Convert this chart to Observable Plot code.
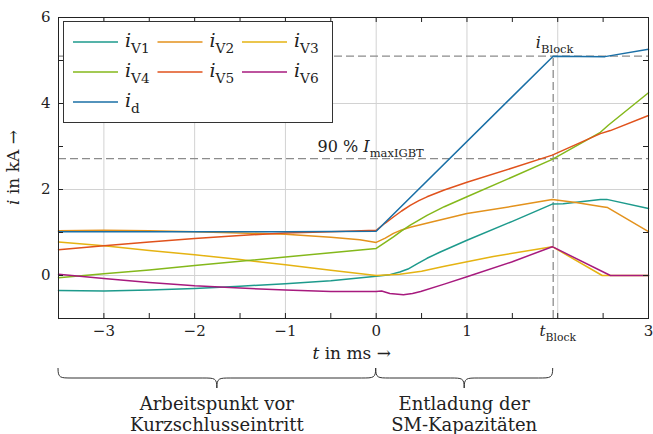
<!DOCTYPE html>
<html><head><meta charset="utf-8">
<script src="https://cdn.jsdelivr.net/npm/d3@7"></script>
<script src="https://cdn.jsdelivr.net/npm/@observablehq/plot@0.6"></script>
<style>body{margin:0;background:#fff}</style>
</head><body><div id="chart"></div>
<script>
// ---- data ----
const seriesKeys = ["V1","V2","V3","V4","V5","V6","d"];
const seriesColors = ["#1d9a8c","#e3921d","#e5b312","#84b81b","#e0521c","#a71a7e","#1a6fa6"];
const legendLabels = ["*i*_{V1}","*i*_{V2}","*i*_{V3}","*i*_{V4}","*i*_{V5}","*i*_{V6}","*i*_{d}"];

const tV1 = [-3.5,-3,-2.5,-2,-1.5,-1,-0.5,0,0.15,0.26,0.35,0.45,0.56,0.7,1.0,1.5,1.94,2.06,2.47,2.54,3.0];
const iV1 = [-0.35,-0.36,-0.34,-0.30,-0.25,-0.19,-0.12,-0.02,0.02,0.08,0.15,0.27,0.40,0.54,0.82,1.26,1.66,1.67,1.77,1.77,1.56];

const tV2 = [-3.5,-3,-2.5,-2,-1.5,-1,-0.5,-0.18,0,0.1,0.19,0.28,0.375,0.6,1.0,1.5,1.94,2.2,2.49,2.55,3.0];
const iV2 = [1.04,1.05,1.04,1.02,0.99,0.96,0.89,0.83,0.77,0.87,0.98,1.06,1.12,1.24,1.44,1.61,1.77,1.70,1.60,1.58,1.02];

const tV3 = [-3.5,-3,-2.5,-2,-1.5,-1,-0.5,0,0.26,0.5,0.74,1.29,1.94,2.49,3.0];
const iV3 = [0.78,0.69,0.58,0.48,0.37,0.25,0.12,0.0,0.03,0.10,0.21,0.44,0.67,0.0,0.0];

const tV4 = [-3.5,-3,-2.5,-2,-1.5,-1,-0.5,0,0.1,0.19,0.28,0.375,0.47,0.56,0.75,1.0,1.5,1.94,2.47,2.56,3.0];
const iV4 = [-0.05,0.04,0.13,0.23,0.33,0.43,0.53,0.63,0.77,0.90,1.04,1.17,1.29,1.40,1.60,1.83,2.29,2.70,3.33,3.50,4.25];

const tV5 = [-3.5,-3,-2.5,-2,-1.5,-1,-0.5,0,0.1,0.19,0.28,0.375,0.47,0.56,0.75,1.0,1.5,1.94,2.47,2.58,3.0];
const iV5 = [0.60,0.69,0.78,0.86,0.93,0.99,1.02,1.05,1.22,1.36,1.50,1.63,1.74,1.83,1.99,2.17,2.50,2.80,3.30,3.37,3.72];

const tV6 = [-3.5,-3,-2.5,-2,-1.5,-1,-0.5,0,0.06,0.15,0.3,0.4,0.49,0.75,1.0,1.5,1.94,2.58,3.0];
const iV6 = [0.03,-0.07,-0.16,-0.24,-0.29,-0.34,-0.37,-0.37,-0.36,-0.42,-0.45,-0.42,-0.37,-0.20,-0.03,0.32,0.67,0.0,0.0];

const tD = [-3.5,-2,-1,0,1.95,2.52,3.0];
const iD = [1.02,1.02,1.02,1.03,5.10,5.09,5.26];

const iBlock = 5.1;      // i_Block level
const i90 = 2.72;        // 90 % I_maxIGBT
const tBlock = 1.95;     // t_Block

const xDomain = [-3.5, 3];
const yDomain = [-1, 6];
const xMajor = [-3,-2,-1,0,1,2,3];
const xLabelTicks = [-3,-2,-1,0,1,2,3];
const xAllTicks = [-3,-2.5,-2,-1.5,-1,-0.5,0,0.5,1,1.5,2,2.5,3];
const yMajor = [0,2,4,6];
const yAllTicks = [0,1,2,3,4,5];

const braces = [
  {x1: -3.5, x2: 0, lines: ["Arbeitspunkt vor", "Kurzschlusseintritt"]},
  {x1: 0, x2: tBlock, lines: ["Entladung der", "SM-Kapazitäten"]}
];

// ---- build ----
const tArr = [tV1,tV2,tV3,tV4,tV5,tV6,tD];
const iArr = [iV1,iV2,iV3,iV4,iV5,iV6,iD];
const rows = seriesKeys.flatMap((k, s) => tArr[s].map((t, j) => ({series: k, t, i: iArr[s][j]})));

const W = 653, H = 434, mL = 58, mR = 5, mT = 17, mB = 116;
const plotW = W - mL - mR, plotH = H - mT - mB;
const tick = 5;
const FONT = "DejaVu Serif";
const dash = "8,4", dashColor = "#8c8c8c";

const fmt = d => d === 2 ? "*t*_{Block}" : (d < 0 ? "\u2212" + (-d) : String(d));

const plot = Plot.plot({
  width: W, height: H,
  marginLeft: mL, marginRight: mR, marginTop: mT, marginBottom: mB,
  style: {fontFamily: FONT, fontSize: "15px", color: "#222", background: "white", overflow: "visible"},
  x: {domain: xDomain},
  y: {domain: yDomain},
  color: {domain: seriesKeys, range: seriesColors},
  marks: [
    Plot.gridX(xMajor, {stroke: "#d2d2d2", strokeOpacity: 1, strokeWidth: 1}),
    Plot.gridY(yMajor, {stroke: "#d2d2d2", strokeOpacity: 1, strokeWidth: 1}),
    Plot.ruleY([iBlock], {stroke: dashColor, strokeDasharray: dash, strokeWidth: 1.3}),
    Plot.ruleY([i90], {stroke: dashColor, strokeDasharray: dash, strokeWidth: 1.3}),
    Plot.ruleX([tBlock], {y1: yDomain[0], y2: iBlock, stroke: dashColor, strokeDasharray: dash, strokeWidth: 1.3}),
    Plot.line(rows, {x: "t", y: "i", z: "series", stroke: "series", strokeWidth: 1.5}),
    Plot.frame({stroke: "#222", strokeWidth: 1}),
    Plot.ruleX(xAllTicks, {insetTop: plotH - tick, stroke: "#222"}),
    Plot.ruleX(xAllTicks, {insetBottom: plotH - tick, stroke: "#222"}),
    Plot.ruleY(yAllTicks, {insetRight: plotW - tick, stroke: "#222"}),
    Plot.ruleY(yAllTicks, {insetLeft: plotW - tick, stroke: "#222"}),
    Plot.axisX(xLabelTicks, {anchor: "bottom", tickSize: 0, tickPadding: 7, tickFormat: fmt, label: null, fontSize: 15}),
    Plot.axisY(yMajor, {anchor: "left", tickSize: 0, tickPadding: 8, tickFormat: d => String(d), label: null, fontSize: 15})
  ]
});
document.getElementById("chart").appendChild(plot);

const svg = d3.select(plot);
const xs = plot.scale("x"), ys = plot.scale("y");
const X = v => xs.apply(v), Y = v => ys.apply(v);

function addText(parent, x, y, str, size, anchor = "middle", transform = null) {
  const t = parent.append("text")
    .attr("x", transform ? 0 : x).attr("y", transform ? 0 : y)
    .attr("text-anchor", anchor)
    .attr("font-family", FONT).attr("font-size", size).attr("fill", "#222")
    .text(str);
  if (transform) t.attr("transform", transform);
  return t;
}

// annotations
const ann = svg.append("g");
addText(ann, X(tBlock) + 2, Y(iBlock) - 8, "*i*_{Block}", 16);
addText(ann, X(0) - 5, Y(i90) - 6, "90 % *I*_{maxIGBT}", 16);
addText(ann, 19, (mT + H - mB) / 2, "*i* in kA \u2192", 17, "middle", `translate(19,${(mT + H - mB) / 2}) rotate(-90)`);
addText(ann, X(0) - 24, 359, "*t* in ms \u2192", 17);

// legend
const lg = svg.append("g");
lg.append("rect").attr("x", 63.5).attr("y", 21.5).attr("width", 269).attr("height", 101)
  .attr("fill", "white").attr("stroke", "#333").attr("stroke-width", 1);
legendLabels.forEach((lab, k) => {
  const col = k % 3, row = Math.floor(k / 3);
  const x0 = 73 + col * 84.5, yy = 42 + row * 30;
  lg.append("line").attr("x1", x0).attr("x2", x0 + 45).attr("y1", yy).attr("y2", yy)
    .attr("stroke", seriesColors[k]).attr("stroke-width", 1.5);
  addText(lg, x0 + 52, yy + 5, lab, 19, "start");
});

// braces
const bg = svg.append("g");
const yTop = 368, yMid = 378, yTip = 388, r = 14;
braces.forEach(b => {
  const x1 = X(b.x1), x2 = X(b.x2), xm = (x1 + x2) / 2;
  const p = `M${x1},${yTop} C${x1},${yMid} ${x1 + 2},${yMid} ${x1 + r},${yMid} L${xm - r},${yMid} C${xm - 2},${yMid} ${xm},${yMid} ${xm},${yTip} C${xm},${yMid} ${xm + 2},${yMid} ${xm + r},${yMid} L${x2 - r},${yMid} C${x2 - 2},${yMid} ${x2},${yMid} ${x2},${yTop}`;
  bg.append("path").attr("d", p).attr("fill", "none").attr("stroke", "#333").attr("stroke-width", 1);
  b.lines.forEach((ln, j) => addText(bg, xm, 410 + j * 21, ln, 18));
});

// rich text: *italic* and _{subscript}
function rich(el) {
  const str = el.textContent;
  if (!/[*]|_\{/.test(str)) return;
  const base = parseFloat(getComputedStyle(el).fontSize) || 15;
  const sel = d3.select(el);
  sel.text(null);
  const re = /\*([^*]+)\*|_\{([^}]+)\}|([^*_]+)/g;
  let m, shifted = false;
  const sh = 0.3 * base;
  while ((m = re.exec(str))) {
    const t = sel.append("tspan");
    if (m[2] != null) {
      t.text(m[2]).attr("font-size", (0.72 * base) + "px").attr("dy", shifted ? 0 : sh);
      shifted = true;
    } else {
      t.text(m[1] != null ? m[1] : m[3]);
      if (m[1] != null) t.attr("font-style", "italic");
      if (shifted) { t.attr("dy", -sh); shifted = false; }
    }
  }
}
svg.selectAll("text").each(function() { rich(this); });
</script>
</body></html>
